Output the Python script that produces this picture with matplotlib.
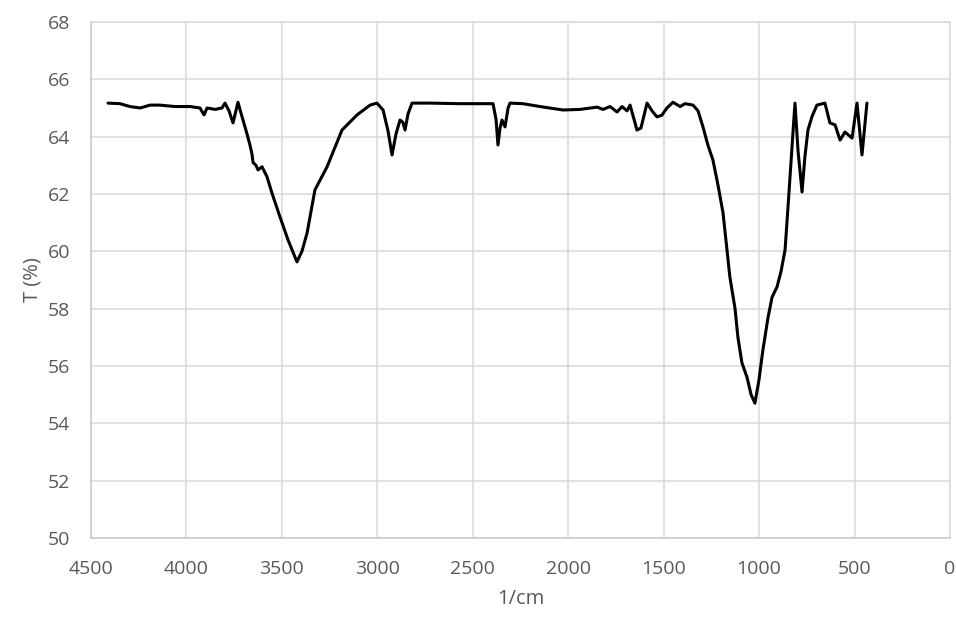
import matplotlib
matplotlib.use("Agg")
import matplotlib.pyplot as plt

# FTIR spectrum
wavenumber = [4411, 4348, 4296, 4243, 4191, 4139, 4060, 3981, 3929, 3908, 3892, 3850,
              3814, 3798, 3777, 3756, 3730, 3709, 3683, 3667, 3657, 3651, 3636, 3625,
              3604, 3578, 3552, 3510, 3468, 3421, 3395, 3368, 3327, 3264, 3185, 3106,
              3038, 3002, 2970, 2944, 2923, 2902, 2881, 2866, 2855, 2839, 2818, 2724,
              2567, 2394, 2378, 2368, 2357, 2347, 2331, 2315, 2305, 2237, 2148, 2027,
              1938, 1849, 1818, 1781, 1744, 1718, 1692, 1676, 1655, 1640, 1619, 1587,
              1561, 1535, 1509, 1483, 1451, 1414, 1388, 1346, 1320, 1294, 1268, 1242,
              1215, 1189, 1153, 1126, 1111, 1090, 1063, 1042, 1022, 1001, 980, 953,
              932, 906, 885, 864, 849, 838, 822, 812, 796, 775, 760, 744, 723, 697,
              655, 629, 602, 576, 550, 513, 487, 461, 435]
transmittance = [65.17, 65.15, 65.05, 65.0, 65.1, 65.1, 65.05, 65.05, 65.0, 64.76, 65.0, 64.95,
                 65.0, 65.17, 64.9, 64.48, 65.2, 64.7, 64.1, 63.7, 63.4, 63.1, 63.0, 62.84,
                 62.95, 62.6, 62.03, 61.2, 60.4, 59.63, 60.0, 60.64, 62.14, 62.94, 64.23, 64.76,
                 65.1, 65.17, 64.93, 64.2, 63.36, 64.1, 64.58, 64.5, 64.23, 64.8, 65.17, 65.17,
                 65.15, 65.15, 64.6, 63.71, 64.3, 64.58, 64.34, 65.0, 65.17, 65.15, 65.05, 64.93,
                 64.95, 65.03, 64.95, 65.05, 64.86, 65.05, 64.9, 65.1, 64.6, 64.23, 64.3, 65.17,
                 64.9, 64.69, 64.75, 65.0, 65.2, 65.05, 65.15, 65.1, 64.9, 64.34, 63.7, 63.19,
                 62.3, 61.34, 59.1, 58.0, 57.0, 56.11, 55.6, 55.0, 54.7, 55.5, 56.56, 57.7,
                 58.4, 58.76, 59.3, 60.05, 61.5, 62.6, 64.2, 65.17, 63.5, 62.07, 63.3, 64.23,
                 64.7, 65.1, 65.17, 64.48, 64.41, 63.88, 64.16, 63.95, 65.17, 63.36, 65.17]

x_ticks = [4500, 4000, 3500, 3000, 2500, 2000, 1500, 1000, 500, 0]
y_ticks = list(range(50, 69, 2))

GRID = "#d9d9d9"
TXT = "#595959"

plt.rcParams["font.family"] = ["Open Sans", "DejaVu Sans"]

fig = plt.figure(figsize=(9.56, 6.21), dpi=100)
ax = fig.add_axes([0.0952, 0.1337, 0.8985, 0.8309])

ax.plot(wavenumber, transmittance, color="black", lw=2.2,
        solid_joinstyle="round", solid_capstyle="round")

ax.set_xlim(4500, 0)
ax.set_ylim(50, 68)
ax.set_xticks(x_ticks)
ax.set_yticks(y_ticks)
ax.grid(True, color=GRID, lw=1.1)
ax.set_axisbelow(True)
for s in ax.spines.values():
    s.set_color(GRID)
    s.set_linewidth(1.1)
ax.spines["left"].set_color("#c8c8c8")
ax.spines["bottom"].set_color("#c8c8c8")

ax.tick_params(axis="both", length=0, labelsize=14, labelcolor=TXT)
ax.tick_params(axis="x", pad=16)
ax.tick_params(axis="y", pad=15)

ax.set_xlabel("1/cm", fontsize=14.5, color=TXT, labelpad=8)
ax.set_ylabel("T (%)", fontsize=14.5, color=TXT, labelpad=4)

fig.savefig("out.png", dpi=100)
